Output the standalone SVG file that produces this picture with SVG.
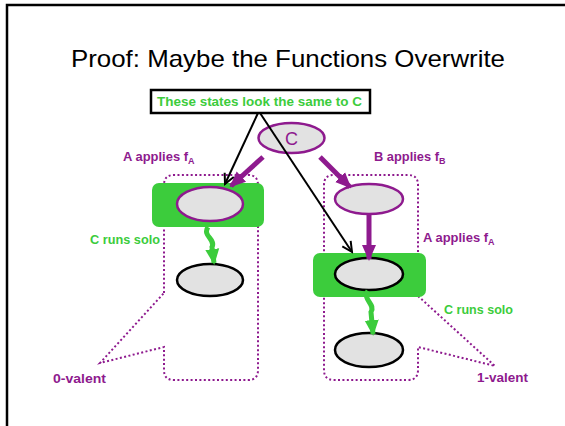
<svg xmlns="http://www.w3.org/2000/svg" width="565" height="426" viewBox="0 0 565 426">
  <style>
    .title { font-family: "Liberation Sans", Arial, sans-serif; font-size: 24px; fill: #000; }
    .lbl { font-family: "Liberation Sans", Arial, sans-serif; font-weight: bold; font-size: 13px; }
    .purple { fill: #8e1a8e; }
    .green { fill: #3ccc3c; }
    .state { fill: #e2e2e2; stroke-width: 2.5; }
    .sp { stroke: #8e1a8e; }
    .sb { stroke: #000; }
    .zone { fill: none; stroke: #8e1a8e; stroke-width: 2; stroke-dasharray: 2 2.4; }
    .hl { fill: #3ccc3c; }
    .parrow { fill: none; stroke: #8e1a8e; stroke-width: 5; }
    .garrow { fill: none; stroke: #3ccc3c; stroke-width: 5; }
    .barrow { fill: none; stroke: #000; stroke-width: 2; }
  </style>
  <defs>
    <marker id="headP" markerUnits="userSpaceOnUse" markerWidth="16" markerHeight="16" viewBox="0 0 16 16" refX="14" refY="8" orient="auto">
      <path d="M0,1 L16,8 L0,15 Z" fill="#8e1a8e"/>
    </marker>
    <marker id="headG" markerUnits="userSpaceOnUse" markerWidth="16" markerHeight="16" viewBox="0 0 16 16" refX="14" refY="8" orient="auto">
      <path d="M0,1 L16,8 L0,15 Z" fill="#3ccc3c"/>
    </marker>
    <marker id="headB" markerUnits="userSpaceOnUse" markerWidth="14" markerHeight="14" viewBox="0 0 14 14" refX="12" refY="7" orient="auto">
      <path d="M2,2 L12,7 L2,12" fill="none" stroke="#000" stroke-width="2"/>
    </marker>
  </defs>

  <!-- slide edge -->
  <path d="M7,426 V5 H565" fill="none" stroke="#000" stroke-width="2.5"/>

  <text class="title" x="71" y="67" textLength="434" lengthAdjust="spacingAndGlyphs">Proof: Maybe the Functions Overwrite</text>

  <!-- valence regions -->
  <g id="zone0">
    <path class="zone" d="M164,293 V185 Q164,175 174,175 H248 Q258,175 258,185 V370 Q258,380 248,380 H174 Q164,380 164,370 V347 L100,363 Z"/>
  </g>
  <g id="zone1">
    <path class="zone" d="M418,296 V185 Q418,175 408,175 H334 Q324,175 324,185 V370 Q324,380 334,380 H408 Q418,380 418,370 V347 L495,366 Z"/>
  </g>

  <!-- highlighted states -->
  <rect class="hl" x="152" y="183" width="112" height="44" rx="7"/>
  <rect class="hl" x="313" y="253" width="113" height="44" rx="7"/>

  <!-- nodes -->
  <g id="c0">
    <ellipse class="state sp" cx="291.5" cy="138" rx="33" ry="15"/>
    <text class="purple" x="291.5" y="145" text-anchor="middle" font-family="Liberation Sans, Arial, sans-serif" font-size="18">C</text>
  </g>
  <g id="a1">
    <ellipse class="state sp" cx="210" cy="204" rx="33" ry="17"/>
  </g>
  <g id="a2">
    <ellipse class="state sb" cx="210" cy="280" rx="33" ry="16"/>
  </g>
  <g id="b1">
    <ellipse class="state sp" cx="369" cy="199" rx="34" ry="15"/>
  </g>
  <g id="b2">
    <ellipse class="state sb" cx="369" cy="274" rx="34" ry="16"/>
  </g>
  <g id="b3">
    <ellipse class="state sb" cx="369" cy="350" rx="34" ry="17"/>
  </g>

  <!-- connectors -->
  <g id="edges">
    <line class="parrow" x1="263" y1="157" x2="231" y2="186" marker-end="url(#headP)"/>
    <line class="parrow" x1="320" y1="157" x2="350" y2="187" marker-end="url(#headP)"/>
    <line class="parrow" x1="369" y1="214" x2="369" y2="259" marker-end="url(#headP)"/>
    <path class="garrow" d="M208,227 C202,236 216,239 212,247 L214,263" marker-end="url(#headG)"/>
    <path class="garrow" d="M368,291 C362,300 376,304 371,312 L373,334" marker-end="url(#headG)"/>
    <line class="barrow" x1="258" y1="113" x2="225" y2="184" marker-end="url(#headB)"/>
    <line class="barrow" x1="260" y1="113" x2="352" y2="252" marker-end="url(#headB)"/>
  </g>

  <!-- callout box -->
  <g id="note">
    <rect x="151" y="90" width="219" height="23" fill="#fff" stroke="#000" stroke-width="2.5"/>
    <text class="lbl green" x="157" y="106" textLength="205" lengthAdjust="spacingAndGlyphs">These states look the same to C</text>
  </g>

  <!-- labels -->
  <text class="lbl purple" x="123" y="161"><tspan textLength="65" lengthAdjust="spacingAndGlyphs">A applies f</tspan><tspan font-size="9" dy="3">A</tspan></text>
  <text class="lbl purple" x="374" y="161"><tspan textLength="65" lengthAdjust="spacingAndGlyphs">B applies f</tspan><tspan font-size="9" dy="3">B</tspan></text>
  <text class="lbl purple" x="423" y="242"><tspan textLength="65" lengthAdjust="spacingAndGlyphs">A applies f</tspan><tspan font-size="9" dy="3">A</tspan></text>
  <text class="lbl green" x="90" y="244" textLength="70" lengthAdjust="spacingAndGlyphs">C runs solo</text>
  <text class="lbl green" x="444" y="314" textLength="69" lengthAdjust="spacingAndGlyphs">C runs solo</text>
  <text class="lbl purple" x="53" y="383" textLength="53" lengthAdjust="spacingAndGlyphs">0-valent</text>
  <text class="lbl purple" x="477" y="382" textLength="51" lengthAdjust="spacingAndGlyphs">1-valent</text>
</svg>
